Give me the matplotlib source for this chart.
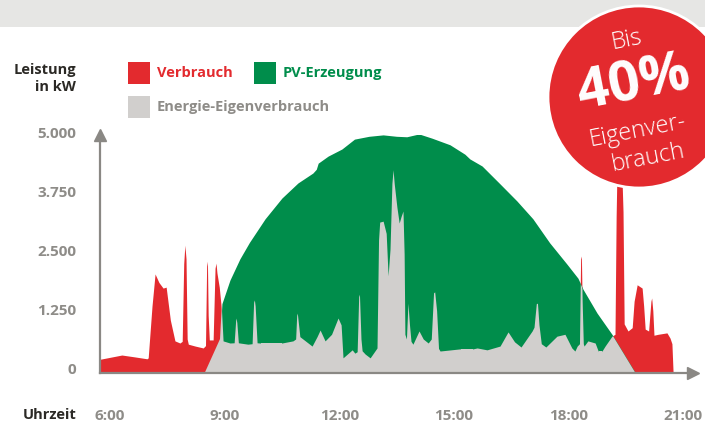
import matplotlib
matplotlib.use("Agg")
import matplotlib.pyplot as plt
from matplotlib.patches import Rectangle, Circle
from matplotlib.transforms import ScaledTranslation

plt.rcParams['font.family'] = ['Open Sans', 'DejaVu Sans']

# ---------------- data ----------------
cons_t = [5.74, 6.31, 6.65, 6.97, 7.00, 7.10, 7.18, 7.28, 7.39, 7.47, 7.58, 7.70, 7.83,
          7.89, 7.93, 7.96, 7.99, 8.02, 8.05, 8.23, 8.44, 8.50, 8.53, 8.55, 8.57, 8.60,
          8.70, 8.75, 8.775, 8.80, 8.86, 8.92, 8.96, 9.14, 9.25, 9.29, 9.30, 9.32, 9.36,
          9.40, 9.61, 9.72, 9.76, 9.78, 9.80, 9.85, 9.93, 10.50, 10.79, 10.86, 10.89,
          10.91, 10.97, 11.05, 11.29, 11.42, 11.50, 11.63, 11.80, 11.97, 12.05, 12.10,
          12.34, 12.41, 12.47, 12.51, 12.53, 12.57, 12.60, 12.68, 12.81, 12.99, 13.03,
          13.06, 13.15, 13.23, 13.28, 13.33, 13.38, 13.41, 13.44, 13.51, 13.57, 13.62,
          13.67, 13.70, 13.72, 13.76, 13.80, 13.84, 13.88, 13.93, 14.09, 14.20, 14.33,
          14.41, 14.47, 14.50, 14.55, 14.60, 14.64, 15.16, 15.50, 15.61, 15.87, 16.21,
          16.42, 16.59, 16.76, 17.05, 17.10, 17.16, 17.19, 17.23, 17.29, 17.41, 17.70,
          17.91, 18.09, 18.17, 18.23, 18.29, 18.32, 18.34, 18.36, 18.39, 18.41, 18.51,
          18.70, 18.78, 18.88, 18.96, 19.14, 19.22, 19.25, 19.27, 19.40, 19.43, 19.46,
          19.56, 19.67, 19.72, 19.80, 19.93, 19.97, 20.01, 20.10, 20.16, 20.18, 20.21,
          20.24, 20.35, 20.58, 20.66, 20.71, 20.74]
cons_v = [270, 360, 320, 280, 300, 1400, 2080, 1900, 1780, 1800, 1100, 660, 615,
          650, 2300, 2690, 2400, 700, 590, 550, 510, 560, 2250, 2350, 1200, 680,
          680, 2200, 2310, 2100, 1800, 1300, 660, 615, 620, 1100, 1145, 1050, 620,
          615, 590, 600, 1480, 1530, 1400, 620, 615, 615, 660, 700, 1250,
          1200, 750, 700, 550, 750, 890, 660, 800, 1145, 1000, 300,
          470, 400, 430, 1600, 1650, 700, 450, 380, 300, 510, 2800,
          3180, 3200, 2940, 2040, 2600, 4000, 4290, 4000, 3500, 3160, 3300,
          3415, 2500, 800, 700, 1460, 1000, 650, 590, 870, 700, 615,
          700, 1680, 1700, 1300, 500, 445, 490, 490, 510, 470, 550,
          850, 640, 530, 870, 950, 1450, 1460, 1000, 600, 530, 760,
          800, 510, 445, 550, 600, 2400, 2460, 1500, 600, 550, 660,
          615, 445, 445, 550, 760, 800, 3300, 4200, 4200, 3400, 1020,
          870, 940, 1500, 1850, 1780, 1400, 910, 870, 1500, 1570, 1300,
          780, 800, 830, 720, 600, 0]

pv_t = [8.49, 8.88, 8.93, 9.14, 9.40, 9.65, 10.06, 10.50, 10.92, 11.31, 11.40, 11.45,
        11.71, 12.07, 12.40, 12.78, 13.15, 13.50, 13.77, 14.09, 14.43, 14.90, 15.29,
        15.42, 15.74, 16.21, 16.65, 17.07, 17.51, 17.96, 18.25, 18.38, 18.75, 19.14, 19.74]
pv_v = [0, 700, 1450, 1950, 2400, 2750, 3250, 3690, 4010, 4220, 4300, 4430,
        4580, 4730, 4940, 5000, 5030, 5000, 4990, 5050, 4960, 4820, 4620,
        4520, 4370, 3990, 3630, 3250, 2740, 2290, 1990, 1760, 1250, 800, 0]

y_ticks = [0, 1250, 2500, 3750, 5000]
y_labels = ["0", "1.250", "2.500", "3.750", "5.000"]
x_ticks = [6, 9, 12, 15, 18, 21]
x_labels = ["6:00", "9:00", "12:00", "15:00", "18:00", "21:00"]

legend_labels = ["Verbrauch", "PV-Erzeugung", "Energie-Eigenverbrauch"]

# ---------------- style ----------------
RED = "#e32a2e"
GREEN = "#008d4b"
LGRAY = "#d1cfcd"
AXGRAY = "#8a8884"
TXTGRAY = "#8e8c88"
DARK = "#2b2925"
BAND = "#e6e6e4"

W, H = 705, 423
fig = plt.figure(figsize=(W / 100, H / 100), dpi=100)
fig.patch.set_facecolor("white")


def fx(px):
    return px / W


def fy(py):
    return 1 - py / H


# top band
fig.add_artist(Rectangle((0, fy(27)), 1, 27 / H, transform=fig.transFigure,
                         facecolor=BAND, edgecolor="none", zorder=0))

# main axes
left_px, right_px, top_px, bot_px = 100, 693, 135, 373
ax = fig.add_axes([fx(left_px), fy(bot_px), (right_px - left_px) / W, (bot_px - top_px) / H])
ax.set_facecolor("none")
px_per_h = 38.2
ax.set_xlim(6 + (left_px - 110) / px_per_h, 6 + (right_px - 110) / px_per_h)
kw_per_px = 1000 / 47.14
ax.set_ylim(-(bot_px - 372) * kw_per_px, (372 - top_px) * kw_per_px)

ax.fill_between(cons_t, cons_v, 0, color=RED, lw=0, zorder=1)
pv_poly = ax.fill_between(pv_t, pv_v, 0, color=GREEN, lw=0, zorder=2)
gray = ax.fill_between(cons_t, cons_v, 0, color=LGRAY, lw=0, zorder=3)
gray.set_clip_path(pv_poly.get_paths()[0], ax.transData)

for s in ["top", "right"]:
    ax.spines[s].set_visible(False)
for s in ["left", "bottom"]:
    ax.spines[s].set_color(AXGRAY)
    ax.spines[s].set_linewidth(1.6)
    ax.spines[s].set_zorder(5)
ax.plot(1, 0, marker=">", ms=9, color=AXGRAY, transform=ax.transAxes, clip_on=False, zorder=6)
ax.plot(0, 1, marker="^", ms=9, color=AXGRAY, transform=ax.transAxes, clip_on=False, zorder=6)

ax.set_yticks(y_ticks)
ax.set_yticklabels(y_labels)
ax.set_xticks(x_ticks)
ax.set_xticklabels(x_labels)
ax.tick_params(axis="both", length=0, colors=TXTGRAY, labelsize=11)
ax.tick_params(axis="y", pad=17)
ax.tick_params(axis="x", pad=26)
for lab in ax.get_yticklabels():
    lab.set_fontweight("bold")
    lab.set_transform(lab.get_transform() + ScaledTranslation(0, 4 / 100, fig.dpi_scale_trans))
for lab in ax.get_xticklabels():
    lab.set_fontweight("bold")

# axis titles
fig.text(fx(76), fy(70), "Leistung", ha="right", va="center", color=DARK,
         fontsize=10.5, fontweight="bold")
fig.text(fx(76), fy(87), "in kW", ha="right", va="center", color=DARK,
         fontsize=10.5, fontweight="bold")
fig.text(fx(77), fy(415), "Uhrzeit", ha="right", va="center", color=DARK,
         fontsize=10.5, fontweight="bold")

# legend
leg_items = [(128, 62, RED, legend_labels[0]), (254, 62, GREEN, legend_labels[1]),
             (128, 96, LGRAY, legend_labels[2])]
for x0, y0, col, lab in leg_items:
    fig.add_artist(Rectangle((fx(x0), fy(y0 + 22)), 22 / W, 22 / H, transform=fig.transFigure,
                             facecolor=col, edgecolor="none"))
    tcol = TXTGRAY if col == LGRAY else col
    fig.text(fx(x0 + 29), fy(y0 + 11), lab, ha="left", va="center", color=tcol,
             fontsize=10.5, fontweight="bold")

# badge
cx, cy, r = 639, 97, 91
fig.add_artist(Circle((cx / 100, (H - cy) / 100), r / 100, transform=fig.dpi_scale_trans,
                      facecolor=RED, edgecolor="white", lw=2, zorder=10))
rot = 11
fig.text(fx(627), fy(40), "Bis", ha="center", va="center", color="white", fontsize=17,
         fontweight="light", rotation=rot, zorder=11)
fig.text(fx(634), fy(84), "40%", ha="center", va="center", color="white", fontsize=40,
         fontweight="bold", rotation=rot, zorder=11)
fig.text(fx(638), fy(131), "Eigenver-", ha="center", va="center", color="white", fontsize=17,
         fontweight="light", rotation=rot, zorder=11)
fig.text(fx(648), fy(158), "brauch", ha="center", va="center", color="white", fontsize=17,
         fontweight="light", rotation=rot, zorder=11)

fig.savefig("out.png", dpi=100)
